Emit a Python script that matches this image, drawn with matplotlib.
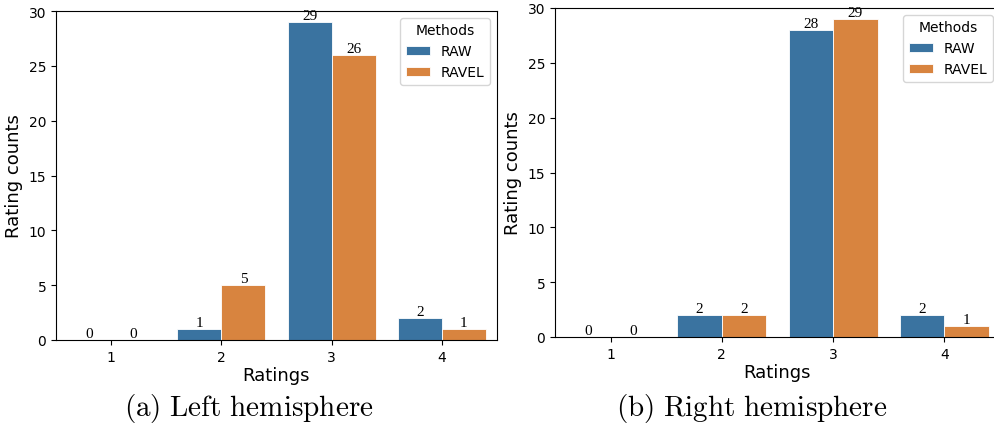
import numpy as np
import matplotlib.pyplot as plt

# Rating counts per method, left and right hemisphere
ratings = ["1", "2", "3", "4"]
methods = ["RAW", "RAVEL"]
left_raw = [0, 1, 29, 2]
left_ravel = [0, 5, 26, 1]
right_raw = [0, 2, 28, 2]
right_ravel = [0, 2, 29, 1]

captions = ["(a) Left hemisphere", "(b) Right hemisphere"]

#---plot configuration---#
raw_col = "#3a73a0"
ravel_col = "#d8843f"
plt.rcParams["mathtext.fontset"] = "cm"

fig = plt.figure(figsize=(9.95, 4.31), dpi=100)
ax1 = fig.add_axes([56/995, 90/431, 441/995, 329/431])
ax2 = fig.add_axes([555/995, 93/431, 445/995, 329/431])

panels = [(ax1, left_raw, left_ravel), (ax2, right_raw, right_ravel)]
cap_x = [249/995, 752/995]
x = np.arange(len(ratings))
width = 0.4

for i, (ax, raw, ravel) in enumerate(panels):
    b1 = ax.bar(x - width/2, raw, width, color=raw_col, edgecolor="white", linewidth=0.6, label=methods[0])
    b2 = ax.bar(x + width/2, ravel, width, color=ravel_col, edgecolor="white", linewidth=0.6, label=methods[1])
    for bars in (b1, b2):
        ax.bar_label(bars, fontsize=11, family="Liberation Serif", padding=0)
    ax.set_xticks(x)
    ax.set_xticklabels(ratings)
    ax.set_xlim(-0.5, 3.5)
    ax.set_ylim(0, 30)
    ax.tick_params(labelsize=10)
    ax.set_xlabel("Ratings", fontsize=13, labelpad=2)
    ax.set_ylabel("Rating counts", fontsize=13)
    ax.legend(title="Methods", loc="upper right", fontsize=10, title_fontsize=10, handlelength=1.7)
    cap = captions[i].replace(" ", r"\ ")
    fig.text(cap_x[i], 22/431, r"$\mathrm{" + cap + "}$", ha="center", va="center", fontsize=21)

fig.savefig("out.png", dpi=100)
